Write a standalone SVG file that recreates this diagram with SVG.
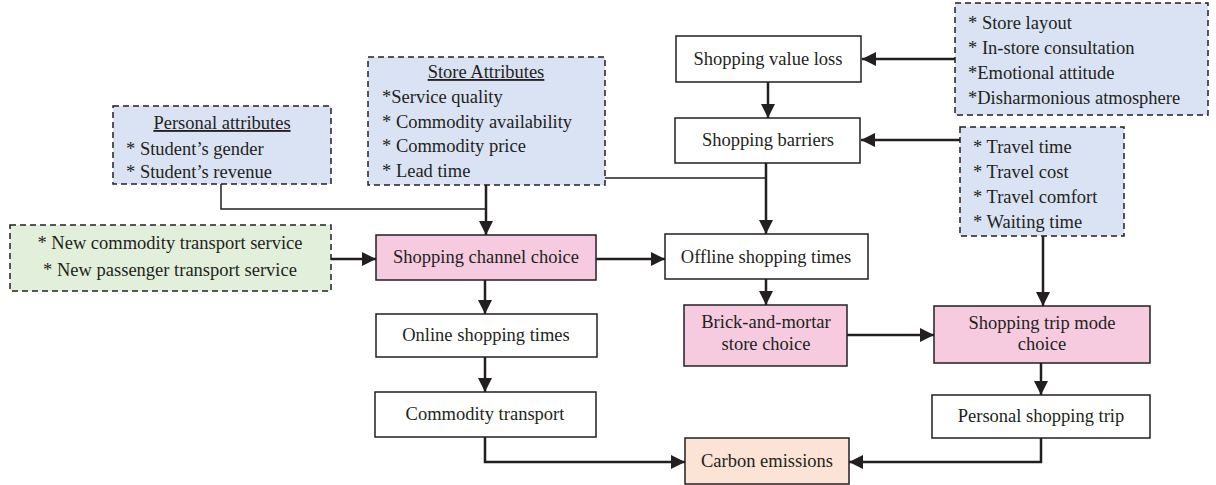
<svg xmlns="http://www.w3.org/2000/svg" width="1216" height="485" viewBox="0 0 1216 485">
  <style>
    text { font-family: "Liberation Serif", "Times New Roman", serif; font-size: 18.5px; fill: #231f20; }
    .mid { text-anchor: middle; }
    .ul { text-decoration: underline; }
    .box { stroke: #231f20; stroke-width: 1.5; }
    .dash { stroke: #231f20; stroke-width: 1.5; stroke-dasharray: 6 4; }
    .white { fill: #ffffff; }
    .pink { fill: #f6cbdf; }
    .blue { fill: #dae3f3; }
    .green { fill: #e2efda; }
    .peach { fill: #fbe4d5; }
    .arrow { fill: none; stroke: #231f20; stroke-width: 2.5; marker-end: url(#head); }
    .line { fill: none; stroke: #231f20; stroke-width: 1.5; }
  </style>
  <defs>
    <marker id="head" markerUnits="userSpaceOnUse" markerWidth="14" markerHeight="14" viewBox="0 0 14 14" refX="14" refY="7" orient="auto">
      <path d="M0,0 L14,7 L0,14 Z" fill="#231f20"/>
    </marker>
  </defs>

  <!-- connectors -->
  <g id="connectors">
    <polyline class="line" points="221,184 221,209 485,209"/>
    <line class="line" x1="605" y1="178" x2="766" y2="178"/>
    <line class="arrow" x1="486" y1="185" x2="486" y2="235"/>
    <line class="arrow" x1="331" y1="259" x2="376" y2="259"/>
    <line class="arrow" x1="596" y1="259" x2="665" y2="259"/>
    <line class="arrow" x1="485" y1="280" x2="485" y2="314"/>
    <line class="arrow" x1="485" y1="357" x2="485" y2="392"/>
    <polyline class="arrow" points="485,437 485,462 685,462"/>
    <line class="arrow" x1="955" y1="59" x2="862" y2="59"/>
    <line class="arrow" x1="768" y1="82" x2="768" y2="118"/>
    <line class="arrow" x1="960" y1="140" x2="861" y2="140"/>
    <line class="arrow" x1="766" y1="163" x2="766" y2="234"/>
    <line class="arrow" x1="766" y1="279" x2="766" y2="305"/>
    <line class="arrow" x1="847" y1="335" x2="934" y2="335"/>
    <line class="arrow" x1="1043" y1="236" x2="1043" y2="306"/>
    <line class="arrow" x1="1041" y1="363" x2="1041" y2="395"/>
    <polyline class="arrow" points="1041,438 1041,462 849,462"/>
  </g>

  <!-- attribute boxes -->
  <g id="personal-attributes">
    <rect class="dash blue" x="113" y="106" width="218" height="78"/>
    <text class="mid ul" x="222" y="129">Personal attributes</text>
    <text x="126" y="155">* Student’s gender</text>
    <text x="126" y="178">* Student’s revenue</text>
  </g>
  <g id="store-attributes">
    <rect class="dash blue" x="368" y="57" width="237" height="128"/>
    <text class="mid ul" x="486" y="78">Store Attributes</text>
    <text x="382" y="103">*Service quality</text>
    <text x="382" y="128">* Commodity availability</text>
    <text x="382" y="152">* Commodity price</text>
    <text x="382" y="177">* Lead time</text>
  </g>
  <g id="new-services">
    <rect class="dash green" x="10" y="225" width="321" height="66"/>
    <text class="mid" x="170" y="249">* New commodity transport service</text>
    <text class="mid" x="170" y="276">* New passenger transport service</text>
  </g>
  <g id="store-factors">
    <rect class="dash blue" x="955" y="3" width="253" height="112"/>
    <text x="968" y="29">* Store layout</text>
    <text x="968" y="54">* In-store consultation</text>
    <text x="968" y="79">*Emotional attitude</text>
    <text x="968" y="104">*Disharmonious atmosphere</text>
  </g>
  <g id="travel-factors">
    <rect class="dash blue" x="960" y="127" width="164" height="109"/>
    <text x="973" y="153">* Travel time</text>
    <text x="973" y="178">* Travel cost</text>
    <text x="973" y="203">* Travel comfort</text>
    <text x="973" y="228">* Waiting time</text>
  </g>

  <!-- process nodes -->
  <g id="shopping-value-loss">
    <rect class="box white" x="676" y="36" width="185" height="46"/>
    <text class="mid" x="768" y="65">Shopping value loss</text>
  </g>
  <g id="shopping-barriers">
    <rect class="box white" x="675" y="118" width="185" height="45"/>
    <text class="mid" x="768" y="146">Shopping barriers</text>
  </g>
  <g id="shopping-channel-choice">
    <rect class="box pink" x="376" y="235" width="220" height="45"/>
    <text class="mid" x="486" y="263">Shopping channel choice</text>
  </g>
  <g id="offline-shopping-times">
    <rect class="box white" x="665" y="234" width="203" height="45"/>
    <text class="mid" x="766" y="263">Offline shopping times</text>
  </g>
  <g id="online-shopping-times">
    <rect class="box white" x="376" y="314" width="221" height="43"/>
    <text class="mid" x="486" y="341">Online shopping times</text>
  </g>
  <g id="commodity-transport">
    <rect class="box white" x="375" y="392" width="221" height="45"/>
    <text class="mid" x="485" y="420">Commodity transport</text>
  </g>
  <g id="brick-and-mortar-store-choice">
    <rect class="box pink" x="684" y="305" width="163" height="61"/>
    <text class="mid" x="766" y="328">Brick-and-mortar</text>
    <text class="mid" x="766" y="350">store choice</text>
  </g>
  <g id="shopping-trip-mode-choice">
    <rect class="box pink" x="934" y="306" width="216" height="57"/>
    <text class="mid" x="1042" y="329">Shopping trip mode</text>
    <text class="mid" x="1042" y="350">choice</text>
  </g>
  <g id="personal-shopping-trip">
    <rect class="box white" x="932" y="395" width="218" height="43"/>
    <text class="mid" x="1041" y="422">Personal shopping trip</text>
  </g>
  <g id="carbon-emissions">
    <rect class="box peach" x="685" y="438" width="164" height="46"/>
    <text class="mid" x="767" y="467">Carbon emissions</text>
  </g>
</svg>
